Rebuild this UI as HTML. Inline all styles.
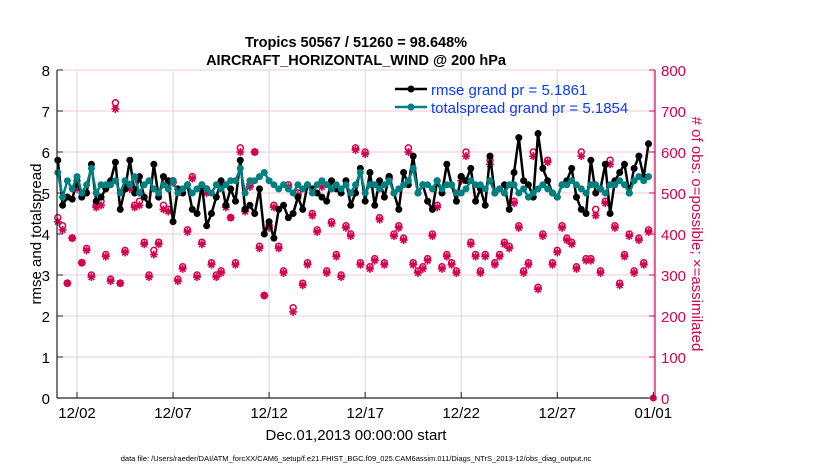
<!DOCTYPE html>
<html><head><meta charset="utf-8"><style>
body{margin:0;background:#fff;}
svg{display:block;font-family:"Liberation Sans",Arial,sans-serif;}
</style></head><body>
<svg id="chart" width="830" height="470" viewBox="0 0 830 470" xmlns="http://www.w3.org/2000/svg">
<text x="356" y="47" text-anchor="middle" font-size="14.5" font-weight="bold">Tropics 50567 / 51260 = 98.648%</text>
<text x="356" y="65" text-anchor="middle" font-size="14.5" font-weight="bold">AIRCRAFT_HORIZONTAL_WIND @ 200 hPa</text>
<g id="grid"></g>
<g id="marks"></g>
<g id="axes"></g>
<text transform="translate(41,234) rotate(-90)" text-anchor="middle" font-size="15">rmse and totalspread</text>
<text transform="translate(692,234) rotate(90)" text-anchor="middle" font-size="15" fill="#d40050"># of obs: o=possible; ×=assimilated</text>
<text x="356" y="440" text-anchor="middle" font-size="15">Dec.01,2013 00:00:00 start</text>
<text x="356" y="461" text-anchor="middle" font-size="7.5">data file: /Users/raeder/DAI/ATM_forcXX/CAM6_setup/f.e21.FHIST_BGC.f09_025.CAM6assim.011/Diags_NTrS_2013-12/obs_diag_output.nc</text>
<g id="legend">
<line x1="395" y1="89" x2="427" y2="89" stroke="#000" stroke-width="2.5"/>
<circle cx="411" cy="89" r="3.5" fill="#000"/>
<text x="431" y="95" font-size="15" fill="#0a3cff">rmse grand pr = 5.1861</text>
<line x1="395" y1="107" x2="427" y2="107" stroke="#008080" stroke-width="2.5"/>
<circle cx="411" cy="107" r="3.5" fill="#008080"/>
<text x="431" y="113" font-size="15" fill="#0a3cff">totalspread grand pr = 5.1854</text>
</g>
</svg>
<script>
const rmse=[5.8,4.7,4.9,4.85,5.3,4.9,5.0,5.7,4.8,4.9,5.1,5.3,
5.75,4.6,5.1,5.8,5.0,5.4,4.9,4.7,5.7,4.9,5.4,5.3,
4.3,5.1,5.0,5.2,4.6,4.5,5.2,4.2,4.5,4.9,5.3,4.7,
5.1,4.8,5.8,4.6,4.7,4.5,5.1,4.0,4.3,3.9,4.6,4.7,
4.4,4.5,4.9,4.6,5.2,5.1,5.0,4.9,4.8,5.3,5.1,5.0,
5.3,4.7,5.0,5.6,4.8,5.5,4.7,5.3,4.9,5.4,5.0,4.6,
5.5,5.2,5.9,5.0,5.2,4.8,4.6,5.3,5.0,5.7,5.2,4.8,
5.4,5.3,5.6,4.8,5.1,4.7,5.9,5.0,5.1,5.2,4.6,5.5,
6.35,5.3,5.2,4.9,6.45,5.6,5.3,5.0,4.9,5.2,5.3,5.6,
4.9,4.6,4.5,5.8,5.0,5.1,5.7,4.5,5.3,5.5,5.7,5.0,
5.6,5.9,5.4,6.2];
const spread=[5.5,4.9,5.3,5.1,5.4,5.0,5.2,5.6,5.0,5.2,5.2,5.2,
5.3,5.0,5.3,5.2,5.4,5.0,5.2,5.3,5.1,5.0,5.2,5.1,
5.3,5.0,5.1,5.2,5.0,5.1,5.2,5.1,5.0,5.2,5.1,5.2,
5.3,5.3,5.6,5.0,5.3,5.3,5.4,5.5,5.3,5.2,5.1,5.2,
5.1,5.0,5.2,5.1,5.2,5.0,5.2,5.3,5.2,5.1,5.2,5.1,
5.2,5.0,5.2,5.5,5.0,5.2,5.2,5.1,5.2,5.3,5.0,5.1,
5.2,5.3,5.6,5.0,5.2,5.2,5.1,5.3,5.1,5.2,5.2,5.0,
5.0,5.1,5.3,5.2,5.2,5.1,5.3,5.0,5.1,5.0,5.2,5.2,
5.0,5.1,4.9,5.0,5.1,5.2,5.1,5.0,4.9,5.2,5.2,5.3,
5.2,5.1,5.0,5.2,5.2,5.1,5.0,5.2,5.2,5.3,5.2,5.0,
5.3,5.4,5.3,5.4];
const obsPossible=[440,420,280,390,520,330,365,300,470,480,350,290,
720,280,360,520,470,480,380,300,360,380,470,460,
530,290,320,410,540,300,380,510,330,300,310,470,
440,330,610,460,520,600,370,250,420,470,370,310,
520,220,500,280,330,450,410,520,310,430,350,300,
420,400,610,330,600,320,340,440,330,540,400,420,
390,610,330,310,320,340,400,470,320,350,330,310,
540,600,380,350,310,350,580,330,350,380,370,480,
420,310,330,600,270,400,580,330,360,420,390,380,
320,600,340,340,460,310,480,580,420,280,350,400,
310,390,330,410];
const obsAssim=[430,410,280,390,510,330,360,295,465,470,345,285,
705,280,355,510,465,470,375,295,350,375,460,455,
525,285,315,405,535,295,375,500,325,295,305,465,
440,325,600,455,515,600,365,250,415,465,365,305,
515,210,495,275,325,445,405,515,305,425,345,295,
415,395,605,325,595,315,335,435,325,535,395,415,
385,600,325,305,315,335,395,465,315,345,325,305,
530,590,375,345,305,345,570,325,345,375,365,475,
415,305,325,590,265,395,575,325,355,415,385,375,
315,590,335,335,445,305,475,570,415,275,345,395,
305,385,325,405];
const xTickLabels=["12/02","12/07","12/12","12/17","12/22","12/27","01/01"];
const xTickDays=[1,6,11,16,21,26,31];
const yLeftTicks=[0,1,2,3,4,5,6,7,8];
const yRightTicks=[0,100,200,300,400,500,600,700,800];

const NS="http://www.w3.org/2000/svg";
const X0=57.8,PX_DAY=19.21,YB=398,YT=70;
const xs=d=>X0+d*PX_DAY;
const yl=v=>YB-(v/8)*(YB-YT);
const yr=v=>YB-(v/800)*(YB-YT);
const dayOf=i=>i*0.25;
function el(tag,attrs,parent){const e=document.createElementNS(NS,tag);for(const k in attrs)e.setAttribute(k,attrs[k]);parent.appendChild(e);return e;}
const grid=document.getElementById('grid'),marks=document.getElementById('marks'),axes=document.getElementById('axes');
yLeftTicks.forEach(v=>{if(v>0){const g=el('line',{x1:57,x2:655,y1:yl(v),y2:yl(v),stroke:'#f6c9d8','stroke-width':1},grid);

}});
xTickDays.forEach(d=>{const g=el('line',{x1:xs(d),x2:xs(d),y1:YT,y2:YB,stroke:'#d6d6d6','stroke-width':1},grid);

});
// obs markers
function star(cx,cy){const g=el('g',{stroke:'#d40050','stroke-width':1.6},marks);


for(let a=0;a<4;a++){const t=a*Math.PI/4;el('line',{x1:cx-4*Math.cos(t),y1:cy-4*Math.sin(t),x2:cx+4*Math.cos(t),y2:cy+4*Math.sin(t)},g);}
el('circle',{cx:cx,cy:cy,r:2.2,fill:'#d40050',stroke:'none'},g);}
obsPossible.forEach((v,i)=>{const c=el('circle',{cx:xs(dayOf(i)),cy:yr(v),r:3,fill:'none',stroke:'#d40050','stroke-width':1.5},marks);

});
obsAssim.forEach((v,i)=>star(xs(dayOf(i)),yr(v)));
function series(arr,color,name){
const p=el('polyline',{points:arr.map((v,i)=>xs(dayOf(i))+','+yl(v)).join(' '),fill:'none',stroke:color,'stroke-width':2.5,'stroke-linejoin':'round'},marks);


arr.forEach((v,i)=>{const c=el('circle',{cx:xs(dayOf(i)),cy:yl(v),r:3.5,fill:color},marks);

});}
series(rmse,'#000','rmse');
series(spread,'#008080','totalspread');
// final zero obs marker
{const c=el('circle',{cx:xs(31),cy:yr(0),r:3.5,fill:'#d40050'},marks);

}
// axes
el('line',{x1:57,x2:57,y1:YT,y2:YB,stroke:'#222','stroke-width':1.2},axes);
el('line',{x1:57,x2:655,y1:YB,y2:YB,stroke:'#222','stroke-width':1.2},axes);
el('line',{x1:655,x2:655,y1:YT,y2:YB,stroke:'#d40050','stroke-width':1.2},axes);
yLeftTicks.forEach(v=>{el('line',{x1:57,x2:63,y1:yl(v),y2:yl(v),stroke:'#222'},axes);
const t=el('text',{x:50,y:yl(v)+6,'text-anchor':'end','font-size':15},axes);t.textContent=v;

});
yRightTicks.forEach(v=>{el('line',{x1:649,x2:655,y1:yr(v),y2:yr(v),stroke:'#d40050'},axes);
const t=el('text',{x:661,y:yr(v)+6,'font-size':15,fill:'#d40050'},axes);t.textContent=v;

});
xTickDays.forEach((d,i)=>{el('line',{x1:xs(d),x2:xs(d),y1:YB,y2:YB-6,stroke:'#222'},axes);
const t=el('text',{x:xs(d),y:418,'text-anchor':'middle','font-size':15},axes);t.textContent=xTickLabels[i];

});
</script>
</body></html>
